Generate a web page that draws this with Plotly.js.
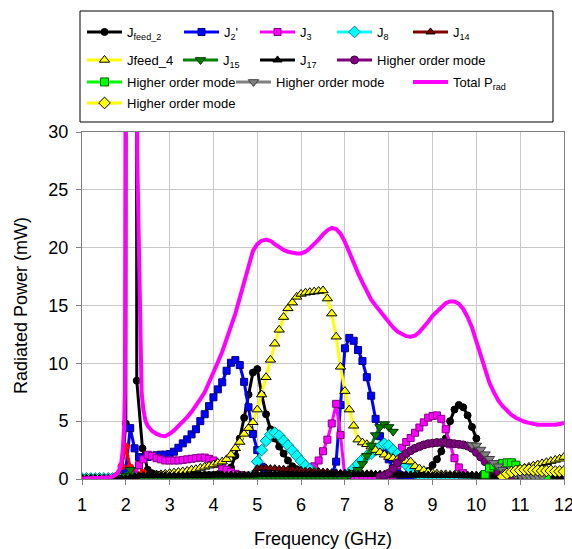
<!DOCTYPE html>
<html>
<head>
<meta charset="utf-8">
<script src="https://cdn.plot.ly/plotly-3.0.1.min.js"></script>
<style>html,body{margin:0;padding:0;background:#fff;}#chart{width:572px;height:549px;}</style>
</head>
<body>
<div id="chart"></div>
<script>
// ---------- DATA ----------
const FREQ = [1.0,1.1,1.2,1.3,1.4,1.5,1.6,1.7,1.8,1.9,
2.0,2.1,2.2,2.3,2.4,2.5,2.6,2.7,2.8,2.9,
3.0,3.1,3.2,3.3,3.4,3.5,3.6,3.7,3.8,3.9,
4.0,4.1,4.2,4.3,4.4,4.5,4.6,4.7,4.8,4.9,
5.0,5.1,5.2,5.3,5.4,5.5,5.6,5.7,5.8,5.9,
6.0,6.1,6.2,6.3,6.4,6.5,6.6,6.7,6.8,6.9,
7.0,7.1,7.2,7.3,7.4,7.5,7.6,7.7,7.8,7.9,
8.0,8.1,8.2,8.3,8.4,8.5,8.6,8.7,8.8,8.9,
9.0,9.1,9.2,9.3,9.4,9.5,9.6,9.7,9.8,9.9,
10.0,10.1,10.2,10.3,10.4,10.5,10.6,10.7,10.8,10.9,
11.0,11.1,11.2,11.3,11.4,11.5,11.6,11.7,11.8,11.9,
12.0];

const JFEED2_F = [1.0,1.1,1.2,1.3,1.4,1.5,1.6,1.7,1.8,1.9,
2.0,2.02,2.23,2.25,2.38,2.5,2.6,2.7,2.8,2.9,
3.0,3.1,3.2,3.3,3.4,3.5,3.6,3.7,3.8,3.9,
4.0,4.1,4.2,4.3,4.4,4.5,4.6,4.7,4.8,4.9,
5.0,5.1,5.2,5.3,5.4,5.5,5.6,5.7,5.8,5.9,
6.0,6.1,6.2,6.3,6.4,6.5,6.6,6.7,6.8,6.9,
7.0,7.1,7.2,7.3,7.4,7.5,7.6,7.7,7.8,7.9,
8.0,8.1,8.2,8.3,8.4,8.5,8.6,8.7,8.8,8.9,
9.0,9.1,9.2,9.3,9.4,9.5,9.6,9.7,9.8,9.9,
10.0];
const JFEED2 = [0.02,0.02,0.02,0.02,0.02,0.03,0.04,0.06,0.12,0.4,
4.8,100,100,8.5,2.65,0.8,0.5,0.4,0.35,0.3,
0.3,0.3,0.3,0.3,0.3,0.3,0.3,0.3,0.35,0.35,
0.35,0.4,0.45,0.6,1.0,2.0,3.5,5.3,7.3,9.2,
9.5,7.3,5.6,4.3,3.5,2.8,2.2,1.6,1.1,0.85,
0.6,0.5,0.45,0.4,0.35,0.35,0.3,0.3,0.3,0.3,
0.3,0.3,0.3,0.3,0.3,0.3,0.3,0.3,0.3,0.3,
0.3,0.3,0.3,0.3,0.3,0.3,0.35,0.4,0.5,0.7,
1.2,1.7,2.4,3.5,5.0,6.0,6.4,6.2,5.5,4.5,
3.5];

const J2P = [0.05,0.05,0.05,0.05,0.05,0.05,0.05,0.1,0.15,0.3,
0.8,4.4,2.65,1.9,1.8,1.9,2.0,2.05,2.1,2.1,
2.15,2.36,2.7,3.08,3.43,3.86,4.3,5.0,5.6,6.3,
7.06,7.75,8.36,9.36,10.05,10.28,9.85,8.4,6.2,3.9,
2.5,1.06,0.5,0.3,0.25,0.2,0.2,0.2,0.2,0.2,
0.2,0.2,0.2,0.2,0.2,0.2,0.2,0.3,1.5,6.4,
11.3,12.2,11.95,11.15,10.2,8.8,7.2,5.2,3.7,2.6,
1.7,0.9,0.5,0.3,0.2,0.15,0.1,0.1,0.1,0.1,
0.1,0.1,0.1,0.1,0.1,0.1,0.1,0.1,0.1,0.1,
0.1,0.1,0.1,0.1,0.1,0.1,0.1,0.1,0.1,0.1,
0.1,0.1,0.1,0.1,0.1,0.1,0.1,0.1,0.1,0.1,
0.1];

const RED_EXTRA = [0.02,0.02,0.02,0.02,0.02,0.02,0.03,0.05,0.3,1.1,
2.8,1.0,0.6,1.2,0.5,0.2,0.1,0.05,0.05,0.05,
0.05];

const J3 = [0.02,0.02,0.02,0.02,0.02,0.02,0.02,0.02,0.03,0.05,
0.1,0.2,0.3,1.2,1.7,2.1,2.0,1.8,1.7,1.6,
1.6,1.6,1.6,1.65,1.7,1.75,1.8,1.85,1.85,1.75,
1.6,1.3,1.0,0.8,0.6,0.45,0.35,0.3,0.25,0.2,
0.15,0.1,0.1,0.1,0.1,0.1,0.1,0.15,0.2,0.25,
0.3,0.5,0.8,1.1,1.6,2.4,3.4,4.8,6.5,3.8,
0.1,0.05,0.05,0.05,0.05,0.05,0.05,0.05,0.05,0.05,
0.05,0.3,1.2,2.7,3.2,3.55,4.0,4.45,4.9,5.3,
5.45,5.5,5.2,4.3,3.0,1.8,1.0,0.5,0.2,0.1,
0.05,0.05,0.05,0.05,0.05,0.05,0.05,0.05,0.05,0.05,
0.05,0.05,0.05,0.05,0.05,0.05,0.05,0.05,0.05,0.05,
0.05];

const J8 = [0.05,0.05,0.05,0.05,0.05,0.05,0.05,0.05,0.05,0.05,
0.05,0.05,0.05,0.05,0.05,0.05,0.05,0.05,0.05,0.05,
0.05,0.05,0.05,0.05,0.05,0.05,0.05,0.05,0.05,0.05,
0.05,0.05,0.05,0.05,0.05,0.05,0.05,0.05,0.1,0.3,
1.5,2.5,3.3,3.85,4.0,3.75,3.3,2.9,2.45,2.0,
1.55,1.15,0.85,0.6,0.4,0.3,0.2,0.15,0.15,0.15,
0.2,0.5,0.9,1.3,1.7,2.0,2.2,2.5,2.8,3.05,
2.9,2.5,2.15,1.7,1.2,0.8,0.5,0.3,0.2,0.2,
0.15,0.15,0.15,0.15,0.15,0.15,0.15,0.15,0.15,0.15,
0.1,0.1,0.1,0.1,0.1,0.1,0.1,0.1,0.1,0.1,
0.1,0.1,0.1,0.1,0.1,0.1,0.1,0.1,0.1,0.1,
0.05];

const J14 = [0.05,0.05,0.05,0.05,0.05,0.05,0.05,0.05,0.05,0.05,
0.1,0.1,0.1,0.1,0.1,0.1,0.1,0.1,0.1,0.1,
0.1,0.1,0.1,0.1,0.1,0.1,0.1,0.1,0.1,0.1,
0.1,0.1,0.1,0.1,0.1,0.1,0.1,0.1,0.15,0.3,
0.9,0.95,0.95,0.9,0.9,0.85,0.85,0.8,0.8,0.75,
0.75,0.7,0.7,0.65,0.65,0.6,0.6,0.55,0.55,0.5,
0.5,0.5,0.5,0.45,0.45,0.45,0.45,0.4,0.4,0.4,
0.4,0.4,0.4,0.35,0.35,0.35,0.35,0.35,0.35,0.35,
0.3,0.3,0.3,0.3,0.3,0.3,0.3,0.3,0.3,0.3,
0.3,0.3,0.3,0.3,0.3,0.3,0.3,0.3,0.3,0.3,
0.3,0.3,0.3,0.25,0.25,0.25,0.25,0.2,0.2,0.2,
0.2];

const JFEED4 = [0.02,0.02,0.02,0.02,0.02,0.02,0.02,0.02,0.02,0.02,
0.05,0.08,0.1,0.15,0.2,0.25,0.3,0.35,0.4,0.45,
0.5,0.55,0.6,0.65,0.7,0.8,0.85,0.95,1.05,1.15,
1.25,1.4,1.5,1.7,2.1,2.65,3.2,3.9,4.4,4.9,
6.0,7.3,8.8,10.3,11.7,12.9,14.0,14.75,15.25,15.75,
16.0,16.1,16.15,16.2,16.25,16.3,15.6,14.3,12.3,9.7,
7.6,6.0,4.6,3.4,3.15,3.0,2.8,2.5,2.3,2.1,
1.9,1.8,1.7,1.6,1.55,1.5,1.1,0.9,0.75,0.6,
0.5,0.45,0.4,0.4,0.35,0.35,0.35,0.3,0.3,0.3,
0.3,0.3,0.3,0.3,0.3,0.35,0.45,0.55,0.7,0.8,
0.85,0.95,1.05,1.15,1.25,1.35,1.45,1.55,1.65,1.75,
1.9];

const J15 = [0.02,0.02,0.02,0.02,0.02,0.02,0.02,0.02,0.02,0.1,
0.3,0.8,0.15,0.05,0.05,0.05,0.05,0.05,0.05,0.05,
0.05,0.05,0.05,0.05,0.05,0.05,0.05,0.05,0.05,0.05,
0.05,0.05,0.05,0.05,0.05,0.05,0.05,0.05,0.05,0.05,
0.05,0.05,0.05,0.05,0.05,0.05,0.05,0.05,0.05,0.05,
0.1,0.1,0.1,0.1,0.1,0.1,0.1,0.1,0.1,0.1,
0.15,0.3,0.55,0.8,1.3,2.0,2.9,3.8,4.5,4.75,
4.5,4.1];

const J17 = [0.02,0.02,0.02,0.02,0.02,0.02,0.02,0.02,0.02,0.02,
0.05,0.1,0.2,0.3,0.3,0.3,0.3,0.3,0.3,0.3,
0.3,0.3,0.3,0.3,0.3,0.3,0.3,0.3,0.3,0.3,
0.35,0.35,0.35,0.35,0.35,0.35,0.35,0.35,0.35,0.35,
0.4,0.4,0.4,0.4,0.4,0.4,0.4,0.4,0.4,0.4,
0.4,0.4,0.4,0.4,0.4,0.4,0.4,0.4,0.4,0.4,
0.4,0.4,0.4,0.4,0.4,0.4,0.4,0.4,0.4,0.4,
0.35,0.35,0.35,0.35,0.35,0.35,0.35,0.35,0.35,0.35,
0.3,0.3,0.3,0.3,0.3,0.3,0.3,0.3,0.3,0.3,
0.25,0.25,0.25,0.25,0.25,0.25,0.25,0.25,0.25,0.25,
0.2,0.2,0.2,0.2,0.2,0.2,0.2,0.2,0.2,0.2,
0.2];

const HOM_PURPLE_F = [7.8,7.9,8.0,8.1,8.2,8.3,8.4,8.5,8.6,8.7,8.8,8.9,9.0,9.1,9.2,9.3,9.4,9.5,9.6,9.7,9.8,9.9,10.0,10.1,10.2,10.3,10.4,10.5,10.6,10.7,10.8];
const HOM_PURPLE = [0.2,0.3,0.5,0.9,1.4,1.9,2.2,2.45,2.65,2.8,2.95,3.05,3.1,3.15,3.15,3.15,3.1,3.05,3.0,2.95,2.85,2.65,2.3,1.9,1.5,1.15,0.85,0.6,0.4,0.3,0.2];

const HOM_LIME_F = [10.2,10.3,10.4,10.5,10.6,10.7,10.8,10.9,11.0,11.1,11.2,11.3,11.4,11.5,11.6];
const HOM_LIME = [0.4,0.95,1.15,1.25,1.35,1.4,1.4,1.2,0.8,0.45,0.25,0.2,0.2,0.2,0.2];

const HOM_GRAY_F = [9.9,10.0,10.1,10.2,10.3,10.4,10.5,10.6,10.7,10.8,10.9,11.0,11.1,11.2,11.3,11.4,11.5];
const HOM_GRAY = [2.95,2.9,2.55,2.15,1.75,1.4,1.1,0.8,0.6,0.45,0.35,0.3,0.25,0.25,0.2,0.2,0.2];

const TOTAL_F = [1.0,1.1,1.2,1.3,1.4,1.5,1.6,1.7,1.75,1.8,1.85,1.9,1.93,1.96,1.98,2.0,2.1,2.2,2.24,2.26,2.3,2.33,2.36,2.4,2.45,2.5,2.6,2.7,2.8,2.9,
3.0,3.1,3.2,3.3,3.4,3.5,3.6,3.7,3.8,3.9,
4.0,4.1,4.2,4.3,4.4,4.5,4.6,4.7,4.8,4.9,
5.0,5.1,5.2,5.3,5.4,5.5,5.6,5.7,5.8,5.9,
6.0,6.1,6.2,6.3,6.4,6.5,6.6,6.7,6.8,6.9,
7.0,7.1,7.2,7.3,7.4,7.5,7.6,7.7,7.8,7.9,
8.0,8.1,8.2,8.3,8.4,8.5,8.6,8.7,8.8,8.9,
9.0,9.1,9.2,9.3,9.4,9.5,9.6,9.7,9.8,9.9,
10.0,10.1,10.2,10.3,10.4,10.5,10.6,10.7,10.8,10.9,
11.0,11.1,11.2,11.3,11.4,11.5,11.6,11.7,11.8,11.9,
12.0];
const TOTAL = [0.05,0.05,0.05,0.05,0.06,0.08,0.12,0.2,0.3,0.45,0.8,1.5,2.5,4.4,7.5,45,80,60,45,28,18,11,7.5,6.0,5.0,4.6,4.15,3.9,3.75,3.7,
3.9,4.2,4.55,4.95,5.35,5.8,6.3,6.9,7.5,8.3,
9.2,10.1,11.0,12.0,13.2,14.3,15.6,17.0,18.5,19.7,
20.3,20.6,20.7,20.6,20.3,20.0,19.8,19.65,19.55,19.5,
19.5,19.65,19.95,20.3,20.7,21.15,21.5,21.7,21.6,21.2,
20.5,19.6,18.6,17.8,17.0,16.2,15.5,15.0,14.5,14.0,
13.5,13.1,12.75,12.5,12.35,12.3,12.4,12.7,13.1,13.6,
14.1,14.5,14.9,15.2,15.35,15.35,15.15,14.7,14.0,13.1,
11.9,10.6,9.3,8.3,7.5,6.8,6.3,5.9,5.55,5.3,
5.1,4.95,4.85,4.75,4.7,4.7,4.68,4.68,4.7,4.75,
4.85];

const HOM_YELLOW_F = [10.6,10.7,10.8,10.9,11.0,11.1,11.2,11.3,11.4,11.5,11.6,11.7,11.8,11.9,12.0];
const HOM_YELLOW = [0.2,0.45,0.6,0.7,0.75,0.8,0.8,0.75,0.75,0.7,0.7,0.7,0.65,0.65,0.65];

const NAMES = ['J<sub>feed_2</sub>', 'J<sub>2</sub>\'', 'J<sub>3</sub>', 'J<sub>8</sub>', 'J<sub>14</sub>',
  'Jfeed_4', 'J<sub>15</sub>', 'J<sub>17</sub>', 'Higher order mode',
  'Higher order mode', 'Higher order mode', 'Total P<sub>rad</sub>', 'Higher order mode'];
const X_TICKS = [1,2,3,4,5,6,7,8,9,10,11,12];
const Y_TICKS = [0,5,10,15,20,25,30];

// ---------- STYLE / TRACES ----------
const FONT = 'Liberation Sans, Arial, Helvetica, sans-serif';

function series(name, x, y, o) {
  const t = {
    type: 'scatter', mode: o.symbol ? 'lines+markers' : 'lines',
    name: name, x: x, y: y,
    line: {color: o.color, width: o.lw || 3},
    legend: o.legend || 'legend',
    showlegend: o.showlegend !== false,
    cliponaxis: true,
    hoverinfo: 'skip'
  };
  if (o.symbol) {
    t.marker = {symbol: o.symbol, size: o.size || 7, color: o.fill || o.color,
                line: {color: o.mline || '#000', width: 1}};
  }
  if (o.lwid !== undefined) t.legendwidth = o.lwid;
  return t;
}

const traces = [
  series(NAMES[0], JFEED2_F, JFEED2, {color:'#000000', symbol:'circle', size:7, mline:'#000', legend:'legend', lwid:47}),
  series(NAMES[1], FREQ, J2P, {color:'#0000ff', symbol:'square', size:7, mline:'#000080', legend:'legend', lwid:26}),
  series('extra', FREQ.slice(0, RED_EXTRA.length), RED_EXTRA, {color:'#ff0000', symbol:'circle', size:7, mline:'#ff0000', showlegend:false}),
  series(NAMES[2], FREQ, J3, {color:'#ff00ff', symbol:'square', size:7, mline:'#800080', legend:'legend', lwid:27}),
  series(NAMES[3], FREQ, J8, {color:'#00ffff', symbol:'diamond', size:9, mline:'#008080', legend:'legend', lwid:26}),
  series(NAMES[4], FREQ, J14, {color:'#800000', symbol:'triangle-up', size:8, mline:'#000000', legend:'legend'}),
  series(NAMES[5], FREQ, JFEED4, {color:'#ffff00', symbol:'triangle-up', size:9, mline:'#000000', legend:'legend2', lwid:46}),
  series(NAMES[6], FREQ.slice(0, J15.length), J15, {color:'#008000', symbol:'triangle-down', size:9, mline:'#003300', legend:'legend2', lwid:27}),
  series(NAMES[7], FREQ, J17, {color:'#000000', symbol:'triangle-up', size:8, mline:'#000000', legend:'legend2', lwid:27}),
  series(NAMES[8], HOM_PURPLE_F, HOM_PURPLE, {color:'#800080', symbol:'circle', size:8, mline:'#400040', legend:'legend2'}),
  series(NAMES[9], HOM_LIME_F, HOM_LIME, {color:'#00ff00', symbol:'square', size:8, mline:'#006400', legend:'legend3', lwid:99}),
  series(NAMES[10], HOM_GRAY_F, HOM_GRAY, {color:'#808080', symbol:'triangle-down', size:9, mline:'#404040', legend:'legend3', lwid:127}),
  series(NAMES[11], TOTAL_F, TOTAL, {color:'#ff00ff', lw:4, legend:'legend3'}),
  series(NAMES[12], HOM_YELLOW_F, HOM_YELLOW, {color:'#ffff00', symbol:'diamond', size:9, mline:'#000000', legend:'legend4'})
];

const PLOT_TOP = 132, PLOT_BOTTOM = 479, PLOT_H = PLOT_BOTTOM - PLOT_TOP;
function py(pix) { return (PLOT_BOTTOM - pix) / PLOT_H; }

function legendRow(yPix) {
  return {orientation: 'h', x: 0, xanchor: 'left', y: py(yPix), yanchor: 'middle',
          bgcolor: 'rgba(0,0,0,0)', borderwidth: 0, itemwidth: 35, valign: 'middle',
          font: {family: FONT, size: 13, color: '#000'}, itemclick: false, itemdoubleclick: false};
}

const axisCommon = {
  showgrid: true, gridcolor: '#c8c8c8', gridwidth: 1,
  showline: true, linecolor: '#808080', linewidth: 1, mirror: true,
  ticks: 'outside', ticklen: 5, tickcolor: '#808080',
  zeroline: false, automargin: false, ticklabeloverflow: 'allow',
  ticklabelstandoff: 4,
  tickfont: {family: FONT, size: 18, color: '#000'}
};

const layout = {
  width: 572, height: 549,
  margin: {l: 82, r: 8, t: 132, b: 70},
  paper_bgcolor: '#ffffff', plot_bgcolor: '#ffffff',
  font: {family: FONT, color: '#000'},
  showlegend: true,
  xaxis: Object.assign({}, axisCommon, {
    range: [1, 12], tickvals: X_TICKS, ticktext: X_TICKS.map(String),
    title: {text: 'Frequency (GHz)', font: {family: FONT, size: 18, color: '#000'}, standoff: 20}
  }),
  yaxis: Object.assign({}, axisCommon, {
    range: [0, 30], tickvals: Y_TICKS, ticktext: Y_TICKS.map(String),
    title: {text: 'Radiated Power (mW)', font: {family: FONT, size: 18, color: '#000'}, standoff: 16}
  }),
  legend: legendRow(32),
  legend2: legendRow(60),
  legend3: legendRow(82),
  legend4: legendRow(103),
  shapes: [{
    type: 'rect', xref: 'paper', yref: 'paper', layer: 'below',
    x0: (80 - 82) / 482, x1: (553 - 82) / 482, y0: py(122), y1: py(11),
    line: {color: '#000', width: 1}, fillcolor: '#ffffff'
  }]
};

Plotly.newPlot('chart', traces, layout, {staticPlot: true, displayModeBar: false});
</script>
</body>
</html>
